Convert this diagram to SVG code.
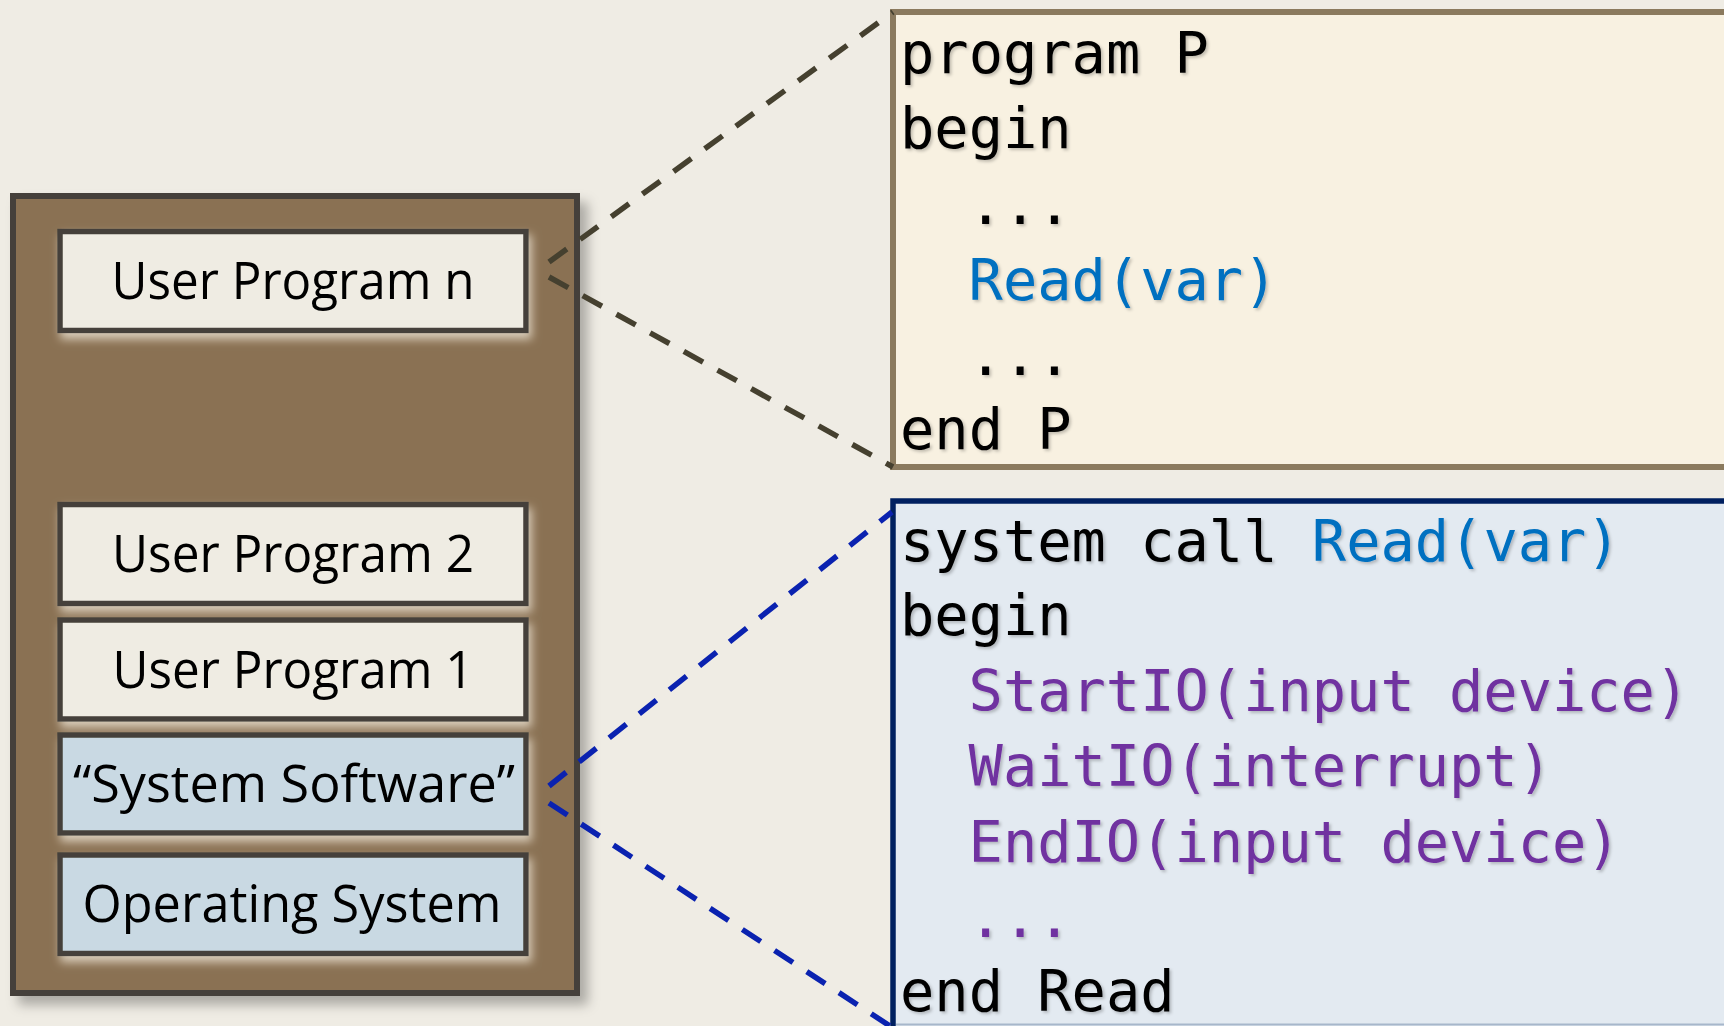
<svg xmlns="http://www.w3.org/2000/svg" width="1724" height="1026" viewBox="0 0 1724 1026">
  <defs>
    <filter id="outerShadow" x="-10%" y="-10%" width="125%" height="125%">
      <feGaussianBlur in="SourceAlpha" stdDeviation="6"/>
      <feOffset dx="8" dy="9" result="b"/>
      <feFlood flood-color="#000" flood-opacity="0.28"/>
      <feComposite in2="b" operator="in" result="s"/>
      <feMerge><feMergeNode in="s"/><feMergeNode in="SourceGraphic"/></feMerge>
    </filter>
    <filter id="glow" x="-10%" y="-20%" width="125%" height="150%">
      <feGaussianBlur in="SourceAlpha" stdDeviation="5"/>
      <feOffset dx="3" dy="6" result="b"/>
      <feFlood flood-color="#F2EADB" flood-opacity="0.75"/>
      <feComposite in2="b" operator="in" result="s"/>
      <feMerge><feMergeNode in="s"/><feMergeNode in="SourceGraphic"/></feMerge>
    </filter>
    <filter id="txtShadow" x="-5%" y="-20%" width="110%" height="150%">
      <feGaussianBlur in="SourceAlpha" stdDeviation="1.4"/>
      <feOffset dx="2" dy="2" result="b"/>
      <feFlood flood-color="#000" flood-opacity="0.22"/>
      <feComposite in2="b" operator="in" result="s"/>
      <feMerge><feMergeNode in="s"/><feMergeNode in="SourceGraphic"/></feMerge>
    </filter>
  </defs>
  <style>
    .label { font-family: "Open Sans", "Noto Sans", "Liberation Sans", sans-serif; font-size: 51px; fill: #000; text-anchor: middle; }
    .slot { stroke: #45413A; stroke-width: 5.5; }
    .user { fill: #EFECE3; }
    .sys { fill: #C9D9E3; }
    .code { font-family: "DejaVu Sans Mono", "Liberation Mono", monospace; font-size: 57px; fill: #000; }
    .blue { fill: #0070C0; }
    .purple { fill: #7030A0; }
    .dashDark { stroke: #45402F; stroke-width: 5.5; stroke-dasharray: 22 16.5; fill: none; }
    .dashBlue { stroke: #0A22B0; stroke-width: 5.5; stroke-dasharray: 22 16.5; fill: none; }
  </style>

  <rect width="1724" height="1026" fill="#EFECE4"/>

  <g id="memory">
    <rect x="13" y="196" width="564" height="797" fill="#8A7153" stroke="#45413A" stroke-width="6" filter="url(#outerShadow)"/>
  </g>

  <g id="user-program-n" filter="url(#glow)">
    <rect class="slot user" x="60" y="231.5" width="466" height="99"/>
    <text class="label" x="293" y="299" textLength="363" lengthAdjust="spacingAndGlyphs">User Program n</text>
  </g>
  <g id="user-program-2" filter="url(#glow)">
    <rect class="slot user" x="60" y="504.5" width="466" height="99"/>
    <text class="label" x="293" y="572" textLength="362" lengthAdjust="spacingAndGlyphs">User Program 2</text>
  </g>
  <g id="user-program-1" filter="url(#glow)">
    <rect class="slot user" x="60" y="620" width="466" height="99"/>
    <text class="label" x="293" y="688" textLength="361" lengthAdjust="spacingAndGlyphs">User Program 1</text>
  </g>
  <g id="system-software" filter="url(#glow)">
    <rect class="slot sys" x="60" y="735" width="466" height="98"/>
    <text class="label" x="294" y="802" textLength="442" lengthAdjust="spacingAndGlyphs">“System Software”</text>
  </g>
  <g id="operating-system" filter="url(#glow)">
    <rect class="slot sys" x="60" y="855" width="466" height="98.5"/>
    <text class="label" x="292" y="922" textLength="419" lengthAdjust="spacingAndGlyphs">Operating System</text>
  </g>

  <g id="program-p">
    <rect x="893" y="12" width="900" height="455" fill="#F8F1E1" stroke="#8B7A5E" stroke-width="6"/>
    <g class="code" filter="url(#txtShadow)">
      <text x="900" y="73">program P</text>
      <text x="900" y="148">begin</text>
      <text x="968.6" y="224">...</text>
      <text class="blue" x="968.6" y="300">Read(var)</text>
      <text x="968.6" y="375">...</text>
      <text x="900" y="449">end P</text>
    </g>
  </g>

  <g id="system-call-read">
    <rect x="893" y="501" width="900" height="600" fill="#E3EAF1" stroke="#002060" stroke-width="5.5"/>
    <line x1="896" y1="1024.5" x2="1724" y2="1024.5" stroke="#A7B7CB" stroke-width="2"/>
    <g class="code" filter="url(#txtShadow)">
      <text x="900" y="561">system call <tspan class="blue">Read(var)</tspan></text>
      <text x="900" y="635">begin</text>
      <text class="purple" x="968.6" y="711">StartIO(input device)</text>
      <text class="purple" x="968.6" y="786">WaitIO(interrupt)</text>
      <text class="purple" x="968.6" y="862">EndIO(input device)</text>
      <text class="purple" x="968.6" y="937">...</text>
      <text x="900" y="1011">end Read</text>
    </g>
  </g>

  <g id="connectors">
    <line class="dashDark" x1="549" y1="262" x2="893" y2="12"/>
    <line class="dashDark" x1="549" y1="277" x2="893" y2="467"/>
    <line class="dashBlue" x1="549" y1="786" x2="892" y2="512"/>
    <line class="dashBlue" x1="549" y1="803" x2="893" y2="1028"/>
  </g>
</svg>
